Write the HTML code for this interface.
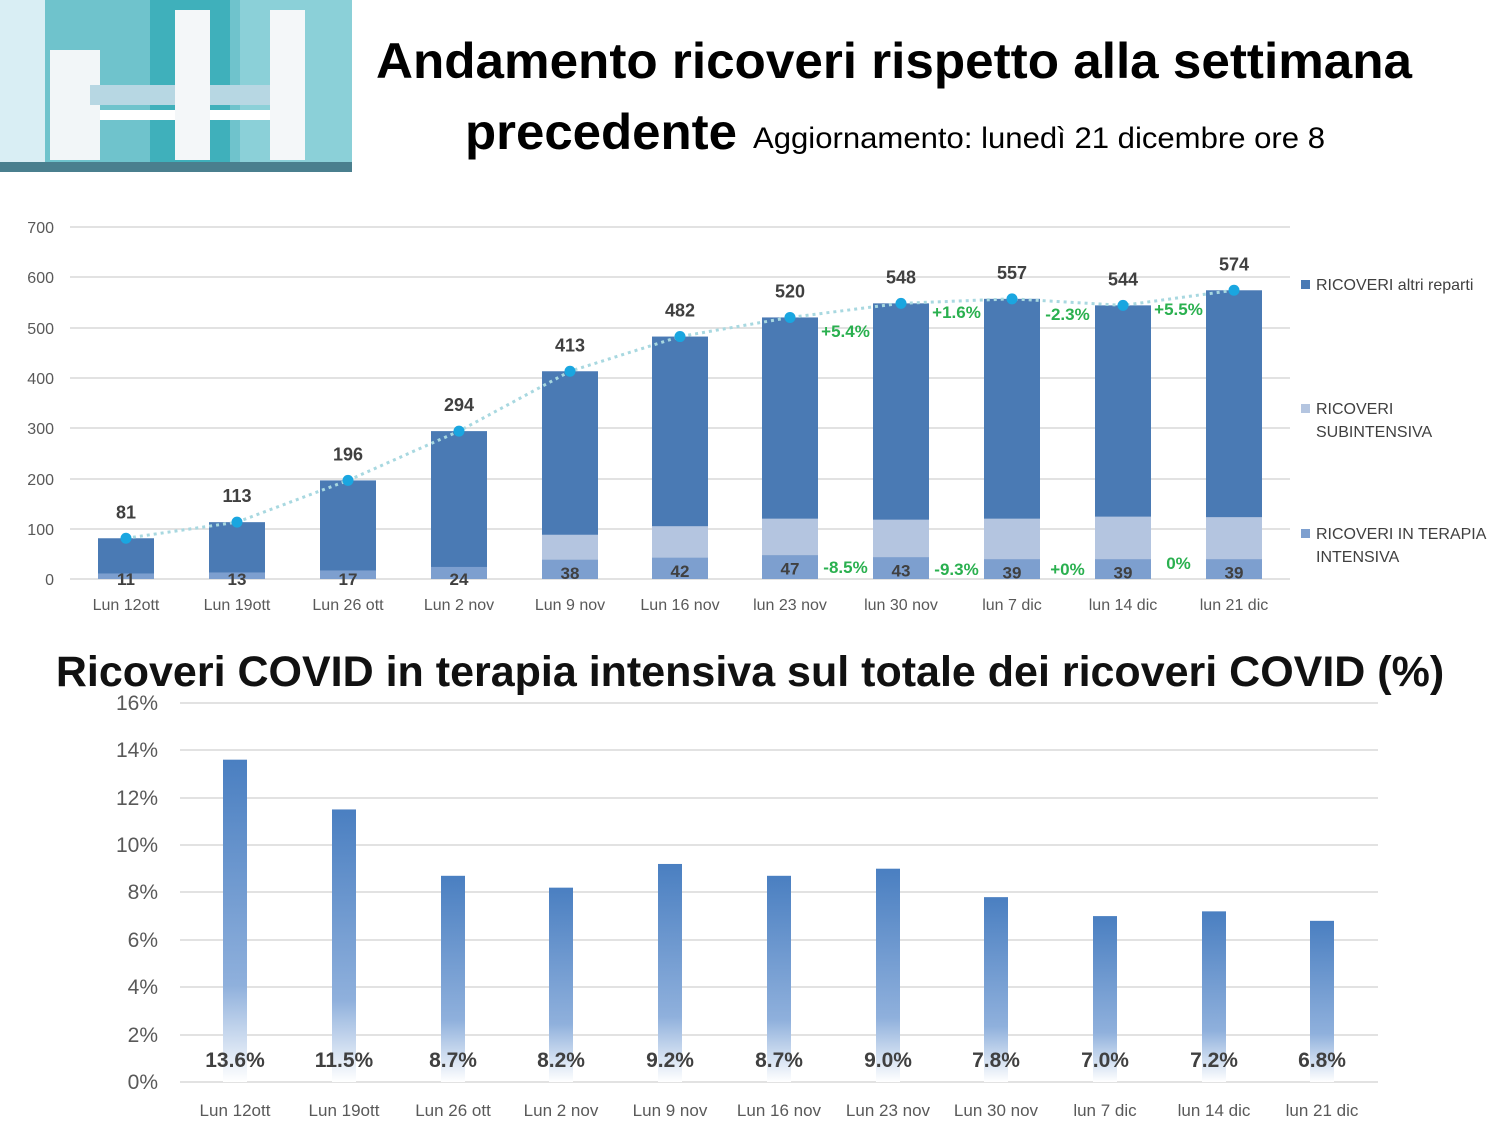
<!DOCTYPE html>
<html><head><meta charset="utf-8"><style>
body{margin:0;width:1500px;height:1125px;background:#fff;overflow:hidden;font-family:"Liberation Sans","DejaVu Sans",sans-serif}
</style></head><body>
<svg width="1500" height="1125" xmlns="http://www.w3.org/2000/svg" font-family="Liberation Sans, DejaVu Sans, sans-serif">
<defs>
<linearGradient id="g" x1="0" y1="0" x2="0" y2="1">
<stop offset="0" stop-color="#4a7fc1"/><stop offset="0.7" stop-color="#8fb0dc"/><stop offset="1" stop-color="#fff"/>
</linearGradient>
</defs>
<!-- illustration -->
<rect x="0" y="0" width="352" height="172" fill="#6fc3cc"/>
<rect x="0" y="0" width="45" height="162" fill="#d9eef4"/>
<rect x="150" y="0" width="80" height="162" fill="#3fb0bb"/>
<rect x="240" y="0" width="112" height="162" fill="#8bd0d8"/>
<rect x="50" y="50" width="50" height="110" fill="#f2f6f8"/>
<rect x="90" y="85" width="200" height="20" fill="#b7d7e3"/>
<rect x="100" y="110" width="185" height="10" fill="#fff"/>
<rect x="175" y="10" width="35" height="150" fill="#f4f7f9"/>
<rect x="270" y="10" width="35" height="150" fill="#f4f7f9"/>
<rect x="0" y="162" width="352" height="10" fill="#4a7f8e"/>
<!-- titles -->
<text x="894" y="78" font-size="50" font-weight="bold" text-anchor="middle" fill="#000" textLength="1036" lengthAdjust="spacingAndGlyphs">Andamento ricoveri rispetto alla settimana</text>
<text x="465" y="149" font-size="50" font-weight="bold" fill="#000" textLength="272" lengthAdjust="spacingAndGlyphs">precedente</text>
<text x="753" y="148" font-size="30" fill="#000" textLength="572" lengthAdjust="spacingAndGlyphs">Aggiornamento: lunedì 21 dicembre  ore 8</text>
<!-- top chart grid -->
<g stroke="#d9d9d9" stroke-width="1.5">
<line x1="70" x2="1290" y1="227" y2="227"/><line x1="70" x2="1290" y1="277" y2="277"/><line x1="70" x2="1290" y1="328" y2="328"/><line x1="70" x2="1290" y1="378" y2="378"/><line x1="70" x2="1290" y1="428" y2="428"/><line x1="70" x2="1290" y1="479" y2="479"/><line x1="70" x2="1290" y1="529" y2="529"/><line x1="70" x2="1290" y1="579" y2="579"/>
</g>
<g font-size="16" fill="#595959" text-anchor="end">
<text x="54" y="233">700</text><text x="54" y="283">600</text><text x="54" y="334">500</text><text x="54" y="384">400</text><text x="54" y="434">300</text><text x="54" y="485">200</text><text x="54" y="535">100</text><text x="54" y="585">0</text>
</g>
<g id="bars"></g>
<g fill="#404040">
<rect x="1301" y="280" width="9" height="9" fill="#4a7ab4"/><text x="1316" y="290" font-size="16">RICOVERI altri reparti</text>
<rect x="1301" y="404" width="9" height="9" fill="#b4c5e0"/><text x="1316" y="414" font-size="16">RICOVERI</text><text x="1316" y="437" font-size="16">SUBINTENSIVA</text>
<rect x="1301" y="529" width="9" height="9" fill="#7d9fcf"/><text x="1316" y="539" font-size="16">RICOVERI IN TERAPIA</text><text x="1316" y="562" font-size="16">INTENSIVA</text>
</g>
<!-- bottom title -->
<text x="750" y="686" font-size="43" font-weight="bold" text-anchor="middle" fill="#111">Ricoveri COVID in terapia intensiva sul totale dei ricoveri COVID (%)</text>
<g stroke="#d9d9d9" stroke-width="1.5">
<line x1="180" x2="1378" y1="703" y2="703"/><line x1="180" x2="1378" y1="750" y2="750"/><line x1="180" x2="1378" y1="798" y2="798"/><line x1="180" x2="1378" y1="845" y2="845"/><line x1="180" x2="1378" y1="892" y2="892"/><line x1="180" x2="1378" y1="940" y2="940"/><line x1="180" x2="1378" y1="987" y2="987"/><line x1="180" x2="1378" y1="1035" y2="1035"/><line x1="180" x2="1378" y1="1082" y2="1082"/>
</g>
<g font-size="21" fill="#595959" text-anchor="end">
<text x="158" y="710">16%</text><text x="158" y="757">14%</text><text x="158" y="805">12%</text><text x="158" y="852">10%</text><text x="158" y="899">8%</text><text x="158" y="947">6%</text><text x="158" y="994">4%</text><text x="158" y="1042">2%</text><text x="158" y="1089">0%</text>
</g>
<g id="bars2"></g>
</svg>
<script>
var ns="http://www.w3.org/2000/svg";
function el(p,t,a,txt){var e=document.createElementNS(ns,t);for(var k in a)e.setAttribute(k,a[k]);if(txt!==undefined)e.textContent=txt;p.appendChild(e);return e;}
var cx=[126,237,348,459,570,680,790,901,1012,1123,1234];
var tot=[81,113,196,294,413,482,520,548,557,544,574];
var ti=[11,13,17,24,38,42,47,43,39,39,39];
var sub=[0,0,0,0,50,63,73,75,81,85,84];
var lab=["Lun 12ott","Lun 19ott","Lun 26 ott","Lun 2 nov","Lun 9 nov","Lun 16 nov","lun 23 nov","lun 30 nov","lun 7 dic","lun 14 dic","lun 21 dic"];
var pct2=["-8.5%","-9.3%","+0%","0%"];
var Y=function(v){return 579-v*0.503;};
var g=document.getElementById("bars");
var pts=[];
for(var i=0;i<11;i++){
 var x=cx[i]-28;
 el(g,"rect",{x:x,y:Y(tot[i]),width:56,height:579-Y(tot[i]),fill:"#4a7ab4"});
 if(sub[i])el(g,"rect",{x:x,y:Y(ti[i]+sub[i]),width:56,height:sub[i]*0.503,fill:"#b4c5e0"});
 el(g,"rect",{x:x,y:Y(ti[i]),width:56,height:ti[i]*0.503,fill:"#7d9fcf"});
 el(g,"text",{x:cx[i],y:Math.min(Y(ti[i])+19,585),"font-size":17,"font-weight":"bold","text-anchor":"middle",fill:"#404040"},ti[i]);
 el(g,"text",{x:cx[i],y:Y(tot[i])-20,"font-size":18,"font-weight":"bold","text-anchor":"middle",fill:"#404040"},tot[i]);
 el(g,"text",{x:cx[i],y:610,"font-size":16,"text-anchor":"middle",fill:"#595959"},lab[i]);
 pts.push(cx[i]+","+Y(tot[i]));
}
el(g,"polyline",{points:pts.join(" "),fill:"none",stroke:"#a8d8e0","stroke-width":3,"stroke-dasharray":"3 4"});
for(var i=0;i<11;i++)el(g,"circle",{cx:cx[i],cy:Y(tot[i]),r:5.5,fill:"#1aa6e0"});
var py=[337,318,320,315];
for(var i=0;i<4;i++)el(g,"text",{x:(cx[6+i]+cx[7+i])/2,y:py[i],"font-size":17,"font-weight":"bold","text-anchor":"middle",fill:"#2ab04f"},["+5.4%","+1.6%","-2.3%","+5.5%"][i]);
var p2y=[573,575,575,569];
for(var i=0;i<4;i++)el(g,"text",{x:(cx[6+i]+cx[7+i])/2,y:p2y[i],"font-size":17,"font-weight":"bold","text-anchor":"middle",fill:"#2ab04f"},pct2[i]);
var b=document.getElementById("bars2");
var c2=[235,344,453,561,670,779,888,996,1105,1214,1322];
var v2=[13.6,11.5,8.7,8.2,9.2,8.7,9.0,7.8,7.0,7.2,6.8];
var l2=["Lun 12ott","Lun 19ott","Lun 26 ott","Lun 2 nov","Lun 9 nov","Lun 16 nov","Lun 23 nov","Lun 30 nov","lun 7 dic","lun 14 dic","lun 21 dic"];
for(var i=0;i<11;i++){
 var y=1082-v2[i]*23.7;
 el(b,"rect",{x:c2[i]-12,y:y,width:24,height:1082-y,fill:"url(#g)"});
 el(b,"text",{x:c2[i],y:1067,"font-size":21,"font-weight":"bold","text-anchor":"middle",fill:"#404040"},v2[i].toFixed(1)+"%");
 el(b,"text",{x:c2[i],y:1116,"font-size":17,"text-anchor":"middle",fill:"#595959"},l2[i]);
}
</script>
</body></html>
